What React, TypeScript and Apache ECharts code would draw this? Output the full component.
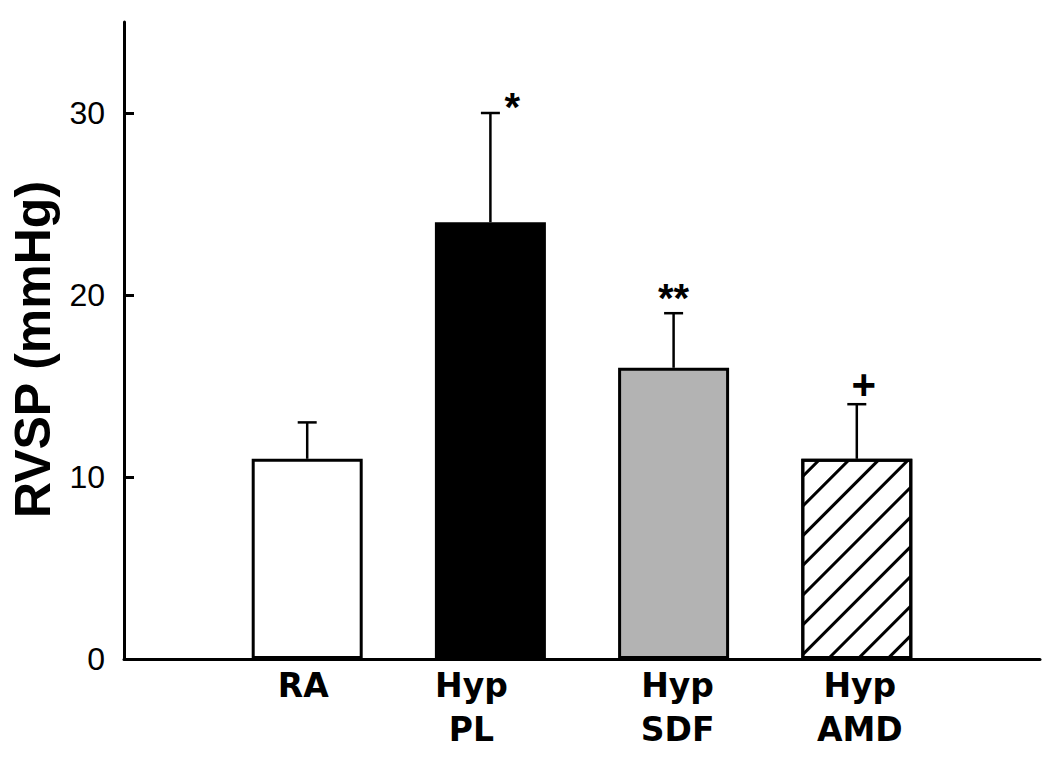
import React, { useEffect, useRef } from "react";
import * as echarts from "echarts";

// ---- data ----
const categories = ["RA", "Hyp\nPL", "Hyp\nSDF", "Hyp\nAMD"];
const positions = [1, 2, 3, 4];
const means = [11, 24, 16, 11];
const errors = [2, 6, 3, 3];
const marks = ["", "*", "**", "+"];
const yTicks = [0, 10, 20, 30];

// ---- styles / layout ----
const fills = ["#ffffff", "#000000", "#b3b3b3", "#ffffff"];
const hatched = [false, false, false, true];
const labelShift = [-8, -38, 8, 6]; // horizontal nudge of category labels (padding)
const markOffset = [
  [0, 0],
  [22, -6],
  [0, -15],
  [7, -20],
];
const markSize = [0, 40, 40, 42];

export default function App() {
  const ref = useRef<HTMLDivElement>(null);
  useEffect(() => {
    const chart = echarts.init(ref.current!, null, { renderer: "svg" });
    const richStyles: any = {};
    categories.forEach((_, i) => {
      const s = labelShift[i];
      richStyles["c" + i] = {
        fontFamily: "DejaVu Sans",
        fontWeight: "bold",
        fontSize: 33,
        lineHeight: 44,
        color: "#000",
        padding: s < 0 ? [0, -s, 0, 0] : [0, 0, 0, s],
      };
    });
    chart.setOption({
      animation: false,
      backgroundColor: "#ffffff",
      grid: { left: 124, right: 10, top: 22, bottom: 105 },
      xAxis: {
        type: "value",
        min: 0,
        max: 5,
        splitLine: { show: false },
        axisLine: { show: true, onZero: false, lineStyle: { color: "#000", width: 3 } },
        axisTick: { show: false },
        axisLabel: {
          customValues: positions,
          margin: 4,
          formatter: (v: number) => {
            const i = positions.indexOf(v);
            if (i < 0) return "";
            return categories[i]
              .split("\n")
              .map((t) => `{c${i}|${t}}`)
              .join("\n");
          },
          rich: richStyles,
        },
      },
      yAxis: {
        type: "value",
        min: 0,
        max: 35,
        splitLine: { show: false },
        axisLine: { show: true, lineStyle: { color: "#000", width: 3 } },
        axisTick: {
          show: true,
          inside: true,
          length: 10,
          customValues: yTicks,
          lineStyle: { color: "#000", width: 3 },
        },
        axisLabel: {
          customValues: yTicks,
          margin: 19,
          color: "#000",
          fontFamily: "Liberation Sans",
          fontSize: 32,
        },
        name: "RVSP (mmHg)",
        nameLocation: "middle",
        nameGap: 66,
        nameTextStyle: {
          fontFamily: "Liberation Sans",
          fontWeight: "bold",
          fontSize: 50,
          color: "#000",
          padding: [0, 18, 0, 0],
        },
      },
      series: [
        {
          type: "bar",
          barWidth: 111,
          data: positions.map((x, i) => ({
            value: [x, means[i]],
            itemStyle: {
              color: fills[i],
              borderColor: "#000",
              borderWidth: 3,
              decal: hatched[i]
                ? {
                    symbol: "rect",
                    symbolSize: 1,
                    dashArrayX: [1, 0],
                    dashArrayY: [2.5, 17.5],
                    rotation: -Math.PI / 4,
                    color: "#000",
                  }
                : undefined,
            },
          })),
        },
        {
          type: "custom",
          data: positions.map((x, i) => [x, means[i], errors[i], i]),
          renderItem: (params: any, api: any) => {
            const x = api.value(0);
            const m = api.value(1);
            const e = api.value(2);
            const idx = api.value(3);
            const base = api.coord([x, m]);
            const top = api.coord([x, m + e]);
            const hw = 9.5;
            const off = markOffset[idx];
            return {
              type: "group",
              children: [
                {
                  type: "line",
                  shape: { x1: base[0], y1: base[1], x2: top[0], y2: top[1] },
                  style: { stroke: "#000", lineWidth: 2.5 },
                },
                {
                  type: "line",
                  shape: { x1: top[0] - hw, y1: top[1], x2: top[0] + hw, y2: top[1] },
                  style: { stroke: "#000", lineWidth: 2.5 },
                },
                {
                  type: "text",
                  x: top[0] + off[0],
                  y: top[1] + off[1],
                  style: {
                    text: marks[idx],
                    fontFamily: "Liberation Sans",
                    fontWeight: "bold",
                    fontSize: markSize[idx],
                    fill: "#000",
                    align: "center",
                    verticalAlign: "middle",
                  },
                },
              ],
            };
          },
          z: 5,
        },
      ],
    });
    return () => chart.dispose();
  }, []);
  return <div ref={ref} style={{ width: 1050, height: 764, margin: -8 }} />;
}
